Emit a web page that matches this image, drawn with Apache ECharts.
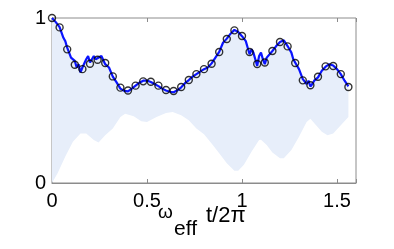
<!DOCTYPE html>
<html><head><meta charset="utf-8">
<script src="https://cdn.jsdelivr.net/npm/echarts@6/dist/echarts.min.js"></script>
<style>html,body{margin:0;padding:0;background:#fff}#c{width:394px;height:249px}</style>
</head><body><div id="c"></div>
<script>
// Measured points (black circles)
const circleX = [0,0.04,0.08,0.12,0.16,0.20,0.24,0.28,0.32,0.36,0.40,0.44,0.48,0.52,0.56,0.60,0.64,0.68,0.72,0.76,
                 0.80,0.84,0.88,0.92,0.96,1.00,1.04,1.08,1.12,1.16,1.20,1.24,1.28,1.32,1.36,1.40,1.44,1.48,1.52,1.56];
const circleY = [1.0,0.943,0.81,0.717,0.69,0.723,0.747,0.727,0.646,0.578,0.561,0.59,0.616,0.614,0.59,0.564,0.558,0.582,0.624,0.66,
                 0.69,0.723,0.794,0.873,0.925,0.891,0.794,0.721,0.73,0.80,0.855,0.828,0.727,0.622,0.592,0.644,0.707,0.709,0.66,0.582];
// Dark blue curve (upper envelope)
const lineX = [0,0.02,0.04,0.06,0.07,0.08,0.10,0.12,0.13,0.14,0.15,0.16,0.18,0.19,0.20,0.22,0.23,0.24,0.26,0.28,0.30,0.32,0.34,0.36,0.38,0.40,
               0.42,0.44,0.46,0.48,0.50,0.52,0.54,0.56,0.58,0.60,0.62,0.64,0.66,0.68,0.70,0.72,0.74,0.76,0.78,0.80,
               0.82,0.84,0.86,0.88,0.90,0.92,0.94,0.96,0.98,1.00,1.02,1.03,1.04,1.05,1.06,1.07,1.08,1.09,1.10,1.11,1.12,1.13,1.14,1.16,1.18,1.20,
               1.22,1.24,1.26,1.27,1.28,1.29,1.30,1.31,1.32,1.34,1.35,1.36,1.37,1.38,1.40,1.42,1.44,1.46,1.48,1.50,1.52,1.54,1.56];
const lineY = [1.0,0.975,0.945,0.88,0.86,0.82,0.76,0.74,0.70,0.72,0.67,0.70,0.75,0.77,0.73,0.77,0.75,0.76,0.77,0.72,0.70,0.645,0.61,0.572,0.558,0.555,
               0.572,0.59,0.608,0.62,0.621,0.612,0.60,0.587,0.572,0.561,0.553,0.55,0.562,0.58,0.605,0.624,0.645,0.66,0.675,0.69,
               0.70,0.725,0.76,0.795,0.85,0.875,0.905,0.928,0.915,0.89,0.86,0.82,0.78,0.81,0.79,0.75,0.71,0.77,0.79,0.75,0.72,0.76,0.77,0.80,0.83,0.855,
               0.865,0.83,0.79,0.75,0.74,0.71,0.69,0.66,0.63,0.60,0.62,0.585,0.60,0.62,0.64,0.68,0.705,0.72,0.712,0.69,0.66,0.62,0.585];
// Lower envelope of the fast oscillation (light blue band)
const lowerX = [0,0.03,0.07,0.11,0.15,0.18,0.22,0.245,0.28,0.32,0.36,0.385,0.43,0.47,0.50,0.55,0.60,0.635,0.68,0.72,0.76,0.80,
                0.84,0.88,0.92,0.96,0.98,1.01,1.05,1.09,1.10,1.13,1.16,1.20,1.22,1.26,1.30,1.34,1.36,1.39,1.42,1.45,1.48,1.52,1.56];
const lowerY = [0,0.06,0.16,0.25,0.30,0.30,0.26,0.245,0.29,0.33,0.40,0.42,0.405,0.375,0.37,0.40,0.425,0.43,0.41,0.38,0.33,0.295,
                0.24,0.18,0.12,0.075,0.075,0.11,0.19,0.26,0.262,0.23,0.185,0.15,0.15,0.20,0.28,0.37,0.39,0.35,0.31,0.29,0.30,0.35,0.40];
const xTickValues = [0, 0.5, 1, 1.5];
const yTickValues = [0, 1];

const chart = echarts.init(document.getElementById('c'), null, {renderer: 'canvas'});
const frame = '#8c8c8c';
const font = '"Liberation Sans", Arial, sans-serif';
chart.setOption({
  animation: false,
  grid: {left: 52, right: 38, top: 18, bottom: 66, show: true, borderColor: frame, borderWidth: 1},
  xAxis: [{
    type: 'value', min: 0, max: 1.6, interval: 0.5,
    axisLine: {lineStyle: {color: frame}},
    axisTick: {inside: true, length: 4, lineStyle: {color: frame}},
    splitLine: {show: false},
    axisLabel: {color: '#000', fontSize: 20, fontFamily: font, margin: 8,
      formatter: v => xTickValues.includes(+v.toFixed(2)) ? String(+v.toFixed(2)) : ''}
  }, {
    type: 'value', position: 'top', min: 0, max: 1.6, interval: 0.5,
    axisLine: {show: false},
    axisTick: {inside: true, length: 4, lineStyle: {color: frame}},
    splitLine: {show: false}, axisLabel: {show: false}
  }],
  yAxis: {
    type: 'value', min: 0, max: 1, interval: 1,
    axisLine: {show: true, lineStyle: {color: frame}},
    axisTick: {show: false},
    splitLine: {show: false},
    axisLabel: {color: '#000', fontSize: 20, fontFamily: font, margin: 6, padding: [4, 0, 0, 0],
      formatter: v => yTickValues.includes(v) ? String(v) : ''}
  },
  graphic: [
    {type: 'text', left: 158, top: 203, style: {text: 'ω', fontSize: 19, fontFamily: font, fill: '#000'}},
    {type: 'text', left: 174, top: 219, style: {text: 'eff', fontSize: 21, fontFamily: font, fill: '#000'}},
    {type: 'text', left: 206, top: 205, style: {text: 't/2π', fontSize: 22, fontFamily: font, fill: '#000'}}
  ],
  series: [
    {
      type: 'custom', silent: true, z: 1, clip: true,
      data: [[0, 0]],
      renderItem: (params, api) => {
        const pts = [];
        for (let i = 0; i < lineX.length; i++) pts.push(api.coord([lineX[i], lineY[i]]));
        for (let i = lowerX.length - 1; i >= 0; i--) pts.push(api.coord([lowerX[i], lowerY[i]]));
        return {type: 'polygon', shape: {points: pts}, style: {fill: '#e7eefa'}};
      }
    },
    {
      type: 'line', z: 3, showSymbol: false, smooth: false,
      data: lineX.map((x, i) => [x, lineY[i]]),
      lineStyle: {color: '#0a14ff', width: 2.2}
    },
    {
      type: 'scatter', z: 4, symbol: 'circle', symbolSize: 7,
      data: circleX.map((x, i) => [x, circleY[i]]),
      itemStyle: {color: 'rgba(0,0,0,0)', borderColor: '#000', borderWidth: 1.4}
    }
  ]
});
</script></body></html>
